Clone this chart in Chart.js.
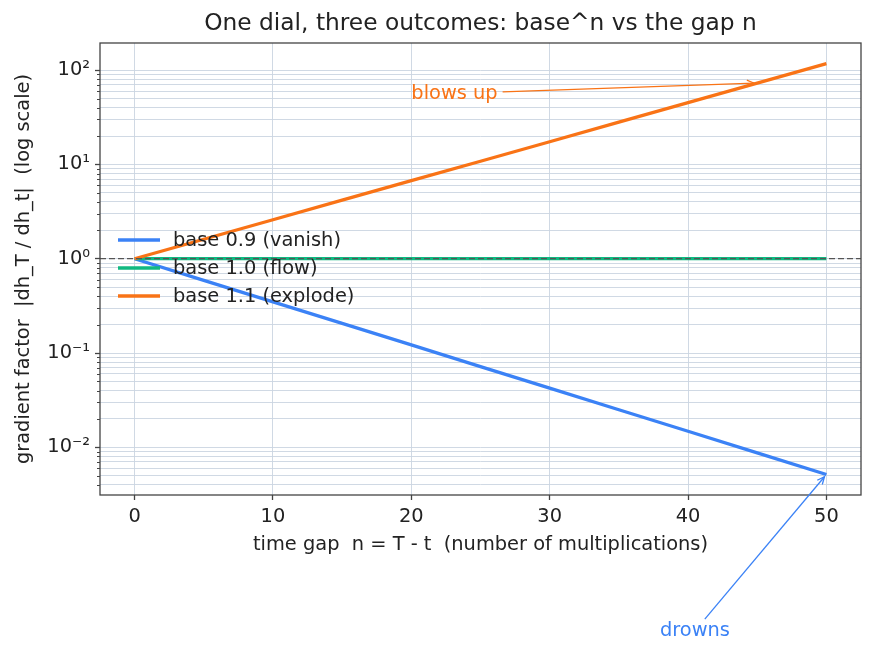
<!DOCTYPE html>
<html>
<head>
<meta charset="utf-8">
<script src="https://cdn.jsdelivr.net/npm/chart.js@4.4.1/dist/chart.umd.min.js"></script>
<style>
  html, body { margin: 0; padding: 0; background: #fff; }
  #wrap { width: 874px; height: 655px; }
</style>
</head>
<body>
<div id="wrap"><canvas id="chart" width="874" height="655"></canvas></div>
<script>
// data
const nValues = [0, 5, 10, 15, 20, 25, 30, 35, 40, 45, 50];
const vanish  = [1, 0.590, 0.349, 0.206, 0.122, 0.0718, 0.0424, 0.0250, 0.0148, 0.00873, 0.00515];
const flow    = [1, 1, 1, 1, 1, 1, 1, 1, 1, 1, 1];
const explode = [1, 1.61, 2.59, 4.18, 6.73, 10.8, 17.4, 28.1, 45.3, 72.9, 117.4];
const seriesLabels = ['base 0.9 (vanish)', 'base 1.0 (flow)', 'base 1.1 (explode)'];
const seriesColors = ['#3b82f6', '#10b981', '#f97316'];

const xTicks = [0, 10, 20, 30, 40, 50];
const yTicks = [0.01, 0.1, 1, 10, 100];
const yTickLabels = ['10⁻²', '10⁻¹', '10⁰', '10¹', '10²'];
const refLine = 1;

const annotations = [
    { text: 'blows up', x: 20, y: 50, tx: 45, ty: 72.9, color: '#f97316', align: 'left' },
    { text: 'drowns', x: 40.5, y: 1e-4, tx: 50, ty: 0.00515, color: '#3b82f6', align: 'center' }
];

const FONT = '"DejaVu Sans", Verdana, sans-serif';
const FS = 19.4;
const INK = '#222';
const GRID = 'rgba(203, 213, 225, 0.9)';
const SPINE = '#444';

const yMin = 0.00312, yMax = 194;

// all log positions (1..9 x 10^k) that fall inside the y range
function logPositions() {
    const out = [];
    for (let k = -3; k <= 2; k++) {
        for (let m = 1; m <= 9; m++) {
            const v = +(m * Math.pow(10, k)).toPrecision(6);
            if (v >= yMin && v <= yMax) out.push(v);
        }
    }
    return out;
}
const isMajor = v => yTicks.some(t => Math.abs(t - v) / t < 1e-6);

const toPoints = arr => nValues.map((n, i) => ({ x: n, y: arr[i] }));

const extras = {
    id: 'extras',
    afterDatasetsDraw(chart) {
        const { ctx, chartArea: a, scales: { y } } = chart;
        // dashed reference line at 1
        const py = y.getPixelForValue(refLine);
        ctx.save();
        ctx.strokeStyle = '#555';
        ctx.lineWidth = 1.3;
        ctx.setLineDash([6, 3]);
        ctx.beginPath();
        ctx.moveTo(a.left, py);
        ctx.lineTo(a.right, py);
        ctx.stroke();
        ctx.restore();
    },
    afterDraw(chart) {
        const { ctx, chartArea: a, scales: { x, y } } = chart;
        ctx.save();

        // frame
        ctx.strokeStyle = SPINE;
        ctx.lineWidth = 1.3;
        ctx.strokeRect(a.left, a.top, a.right - a.left, a.bottom - a.top);

        // minor y ticks
        ctx.lineWidth = 1;
        y.ticks.forEach(t => {
            if (isMajor(t.value)) return;
            const p = Math.round(y.getPixelForValue(t.value)) + 0.5;
            ctx.beginPath();
            ctx.moveTo(a.left - 3, p);
            ctx.lineTo(a.left, p);
            ctx.stroke();
        });

        // title
        ctx.fillStyle = INK;
        ctx.font = '23.3px ' + FONT;
        ctx.textAlign = 'center';
        ctx.textBaseline = 'middle';
        ctx.fillText('One dial, three outcomes: base^n vs the gap n', (a.left + a.right) / 2, 24);

        // legend inside axes, centre left
        const cy = (a.top + a.bottom) / 2 - 1;
        ctx.font = FS + 'px ' + FONT;
        ctx.textAlign = 'left';
        chart.data.datasets.forEach((ds, i) => {
            const ry = cy + (i - 1) * 28;
            ctx.strokeStyle = ds.borderColor;
            ctx.lineWidth = 3.3;
            ctx.beginPath();
            ctx.moveTo(a.left + 18, ry);
            ctx.lineTo(a.left + 60, ry);
            ctx.stroke();
            ctx.fillStyle = INK;
            ctx.fillText(ds.label, a.left + 73, ry + 1);
        });

        // annotations with arrows
        annotations.forEach(an => {
            ctx.font = FS + 'px ' + FONT;
            ctx.textAlign = an.align;
            ctx.textBaseline = 'alphabetic';
            ctx.fillStyle = an.color;
            const px = x.getPixelForValue(an.x);
            const pyy = y.getPixelForValue(an.y);
            ctx.fillText(an.text, px, pyy);
            const w = ctx.measureText(an.text).width;
            const asc = FS * 0.76, desc = FS * 0.24;
            const left = an.align === 'center' ? px - w / 2 : px;
            const cx = left + w / 2;
            const ccy = pyy - (asc - desc) / 2;
            const hw = w / 2 + 5, hh = (asc + desc) / 2 + 2;
            const tx = x.getPixelForValue(an.tx);
            const ty = y.getPixelForValue(an.ty);
            const dx = tx - cx, dy = ty - ccy;
            const s = Math.min(hw / Math.abs(dx || 1e-9), hh / Math.abs(dy || 1e-9));
            const sx = cx + dx * s, sy = ccy + dy * s;
            const len = Math.hypot(dx, dy);
            const ux = dx / len, uy = dy / len;
            const ex = tx - ux * 3, ey = ty - uy * 3;
            ctx.strokeStyle = an.color;
            ctx.lineWidth = 1.3;
            ctx.beginPath();
            ctx.moveTo(sx, sy);
            ctx.lineTo(ex, ey);
            ctx.stroke();
            const ang = Math.atan2(uy, ux);
            ctx.beginPath();
            ctx.moveTo(ex - 8 * Math.cos(ang - 0.42), ey - 8 * Math.sin(ang - 0.42));
            ctx.lineTo(ex, ey);
            ctx.lineTo(ex - 8 * Math.cos(ang + 0.42), ey - 8 * Math.sin(ang + 0.42));
            ctx.stroke();
        });
        ctx.restore();
    }
};

new Chart(document.getElementById('chart'), {
    type: 'line',
    data: {
        datasets: [
            { label: seriesLabels[0], data: toPoints(vanish), borderColor: seriesColors[0], order: 2 },
            { label: seriesLabels[1], data: toPoints(flow), borderColor: seriesColors[1], order: 1 },
            { label: seriesLabels[2], data: toPoints(explode), borderColor: seriesColors[2], order: 0 }
        ].map(d => Object.assign(d, { borderWidth: 3.3, pointRadius: 0, tension: 0, fill: false, backgroundColor: d.borderColor }))
    },
    options: {
        responsive: false,
        animation: false,
        layout: { padding: { top: 43, right: 13, left: 0, bottom: 0 } },
        plugins: { legend: { display: false }, title: { display: false }, tooltip: { enabled: false } },
        scales: {
            x: {
                type: 'linear',
                min: -2.5,
                max: 52.5,
                afterFit: s => { s.height = 160; },
                afterBuildTicks: s => { s.ticks = xTicks.map(v => ({ value: v })); },
                border: { display: false },
                grid: { color: GRID, lineWidth: 1, tickLength: 5, tickColor: SPINE, tickWidth: 1.3 },
                ticks: { color: INK, font: { family: FONT, size: FS }, padding: 5, maxRotation: 0 },
                title: {
                    display: true,
                    text: 'time gap  n = T - t  (number of multiplications)',
                    color: INK,
                    font: { family: FONT, size: FS },
                    padding: { top: 0, bottom: 98 }
                }
            },
            y: {
                type: 'logarithmic',
                min: yMin,
                max: yMax,
                afterFit: s => { s.width = 100; },
                afterBuildTicks: s => { s.ticks = logPositions().map(v => ({ value: v })); },
                border: { display: false },
                grid: {
                    color: GRID,
                    lineWidth: 1,
                    tickLength: 5,
                    tickWidth: 1.3,
                    tickColor: c => (c.tick && isMajor(c.tick.value)) ? SPINE : 'rgba(0,0,0,0)'
                },
                ticks: {
                    color: INK,
                    font: { family: FONT, size: FS },
                    padding: 5,
                    autoSkip: false,
                    callback: v => {
                        const i = yTicks.findIndex(t => Math.abs(t - v) / t < 1e-6);
                        return i >= 0 ? yTickLabels[i] : '';
                    }
                },
                title: {
                    display: true,
                    text: 'gradient factor  |dh_T / dh_t|  (log scale)',
                    color: INK,
                    font: { family: FONT, size: FS },
                    padding: { top: 12, bottom: 0 }
                }
            }
        }
    },
    plugins: [extras]
});
</script>
</body>
</html>
